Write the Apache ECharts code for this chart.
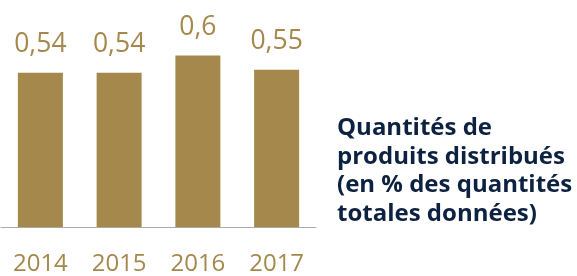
<!DOCTYPE html>
<html>
<head>
<meta charset="utf-8">
<script src="https://cdn.jsdelivr.net/npm/echarts@6/dist/echarts.min.js"></script>
<style>html,body{margin:0;padding:0;background:#fff;}#c{width:577px;height:276px;}</style>
</head>
<body>
<div id="c"></div>
<script>
var categories = ['2014', '2015', '2016', '2017'];
var values = [0.54, 0.54, 0.6, 0.55];
var titleLines = ['Quantités de', 'produits distribués', '(en % des quantités', 'totales données)'];

var gold = '#A5884C';
var chart = echarts.init(document.getElementById('c'), null, {renderer: 'canvas'});
chart.setOption({
  animation: false,
  grid: {left: 1, right: 261, top: 27, bottom: 45},
  title: {
    text: titleLines.join('\n'),
    left: 337, top: 114, padding: 0,
    textStyle: {fontFamily: 'Open Sans', fontWeight: 'bold', fontSize: 24, lineHeight: 28.5, color: '#0d2240'}
  },
  xAxis: {
    type: 'category', data: categories,
    axisLine: {lineStyle: {color: '#ababab', width: 1}},
    axisTick: {show: false},
    axisLabel: {color: gold, fontFamily: 'Open Sans', fontSize: 24, margin: 25}
  },
  yAxis: {type: 'value', min: 0, max: 0.7, show: false, splitLine: {show: false}},
  series: [{
    type: 'bar', data: values, barWidth: 45,
    itemStyle: {color: gold},
    label: {
      show: true, position: 'top', distance: 15, color: gold,
      fontFamily: 'Open Sans', fontSize: 26.5,
      formatter: function (p) { return String(p.value).replace('.', ','); }
    }
  }]
});
</script>
</body>
</html>
